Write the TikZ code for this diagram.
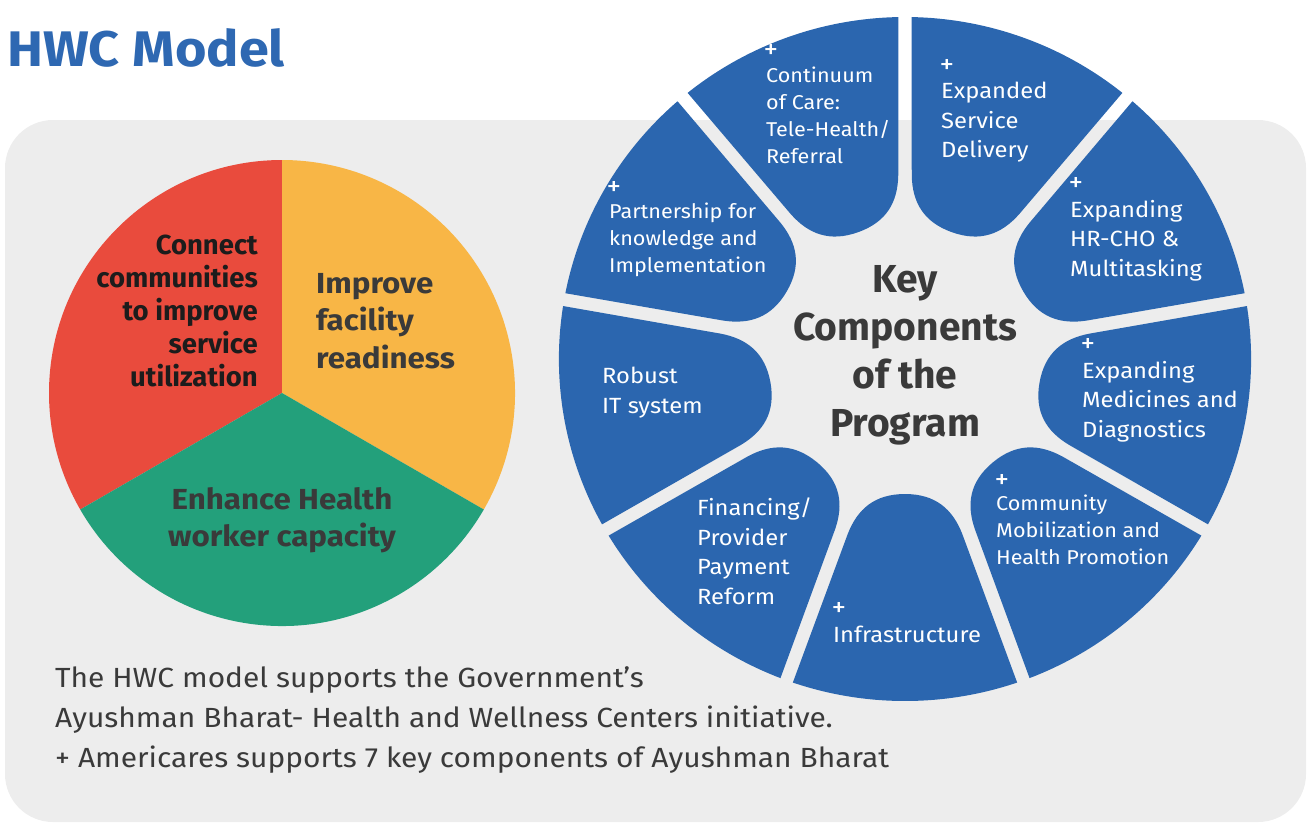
\documentclass[tikz,border=0pt]{standalone}
\usepackage{fontspec}
\setmainfont{Fira Sans}[FakeStretch=1.08]
\newfontfamily\plainfira{Fira Sans}
\definecolor{segblue}{HTML}{2B66AF}
\definecolor{titleblue}{HTML}{2E68B2}
\definecolor{bggray}{HTML}{EDEDED}
\definecolor{pred}{HTML}{E94B3D}
\definecolor{pyellow}{HTML}{F8B646}
\definecolor{pgreen}{HTML}{23A07B}
\definecolor{dark}{HTML}{3A3A3A}
\definecolor{nearblack}{HTML}{1C1C1C}
\begin{document}
\begin{tikzpicture}[x=1pt,y=-1pt,
  segtxt/.style={text=white,align=left,inner sep=0pt,anchor=north west},
  small/.style={segtxt,font=\fontsize{20}{27}\selectfont},
  large/.style={segtxt,font=\fontsize{22}{29.5}\selectfont},
  plus/.style={text=white,inner sep=0pt,font=\fontsize{27}{27}\selectfont,anchor=center},
  pietxt/.style={inner sep=0pt,font=\bfseries\fontsize{29}{37.5}\selectfont,text=dark}]
\useasboundingbox (0,0) rectangle (1307,823);
\fill[bggray] (5,120) [rounded corners=48] rectangle (1306,822);

% title
\node[anchor=base west,inner sep=0pt,text=titleblue,font=\bfseries\fontsize{50}{50}\selectfont] (title) at (7,66) {HWC Model};

% pie
\fill[pred] (282,393) -- ++(-90:233) arc[start angle=-90,end angle=-210,radius=233] -- cycle;
\fill[pyellow] (282,393) -- ++(30:233) arc[start angle=30,end angle=-90,radius=233] -- cycle;
\fill[pgreen] (282,393) -- ++(-210:233) arc[start angle=-210,end angle=-330,radius=233] -- cycle;

\node[inner sep=0pt,anchor=north east,align=right,text=nearblack,font=\plainfira\bfseries\fontsize{27.5}{33}\selectfont] (red) at (258,235)
 {Connect\\communities\\to improve\\service\\utilization};
\node[pietxt,anchor=north west,align=left] (yellow) at (316,273) {Improve\\facility\\readiness};
\node[pietxt,anchor=north,align=center] (green) at (282,487) {Enhance Health\\worker capacity};

% wheel
\begin{scope}[shift={(905,359)},xscale=1.012]
\foreach \t in {70,30,-10,-50,-90,-130,-170,150,110}{
  \begin{scope}[rotate=\t]
  \fill[segblue] (18.91:342) arc[start angle=18.91,end angle=-18.91,radius=342]
    -- (175,-56.6) .. controls (150,-47) and (135,-30) .. (135,0)
    .. controls (135,30) and (150,47) .. (175,56.6) -- cycle;
  \end{scope}
}
\end{scope}

\node[inner sep=0pt,align=center,text=dark,font=\plainfira\bfseries\fontsize{39}{48}\selectfont] (center) at (905,355)
 {Key\\Components\\of the\\Program};

% segment texts
\node[plus] (p1) at (771,51) {+};
\node[small] (s1) at (766,67) {Continuum\\of Care:\\Tele-Health/\\Referral};
\node[plus] (p2) at (947,66) {+};
\node[large] (s2) at (941,82) {Expanded\\Service\\Delivery};
\node[plus] (p3) at (1076,184) {+};
\node[large] (s3) at (1070,200) {Expanding\\HR-CHO \&\\Multitasking};
\node[plus] (p4) at (1088,345) {+};
\node[large] (s4) at (1082,361) {Expanding\\Medicines and\\Diagnostics};
\node[plus] (p5) at (1002,481) {+};
\node[small] (s5) at (996,495) {Community\\Mobilization and\\Health Promotion};
\node[plus] (p6) at (839,609) {+};
\node[large] (s6) at (833,626) {Infrastructure};
\node[large] (s7) at (697,498) {Financing/\\Provider\\Payment\\Reform};
\node[large] (s8) at (602,367) {Robust\\IT system};
\node[plus] (p9) at (614,188) {+};
\node[small] (s9) at (609,203) {Partnership for\\knowledge and\\Implementation};

% bottom text
\node[inner sep=0pt,anchor=north west,align=left,text=dark,font=\fontsize{27.7}{40}\selectfont] (note) at (55,666)
 {The HWC model supports the Government’s\\Ayushman Bharat- Health and Wellness Centers initiative.\\+ Americares supports 7 key components of Ayushman Bharat};
\end{tikzpicture}
\end{document}
